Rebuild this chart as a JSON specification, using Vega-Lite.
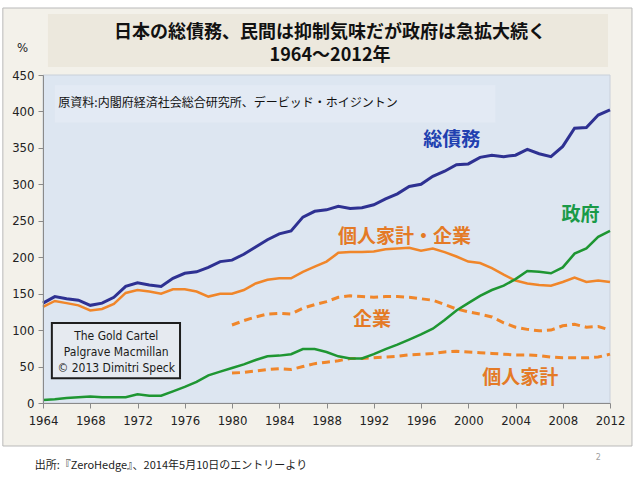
{
  "$schema": "https://vega.github.io/schema/vega-lite/v6.json",
  "width": 567,
  "height": 328,
  "autosize": {"type": "none"},
  "padding": {"left": 43, "top": 75, "right": 30, "bottom": 77},
  "background": "white",
  "config": {
    "view": {"fill": "#dde6f1", "stroke": "#c9d0da", "strokeWidth": 1},
    "axis": {"labelFont": "DejaVu Sans Condensed", "labelFontSize": 13, "labelColor": "#222222", "domainColor": "#8a8a8a", "tickColor": "#8a8a8a", "grid": false}
  },
  "datasets": {
    "one": [{"k": 1}],
    "debt": [
      {"year": 1964, "total": 137, "hc": 132, "gov": 4, "corp": null, "hh": null},
      {"year": 1965, "total": 146, "hc": 140, "gov": 5, "corp": null, "hh": null},
      {"year": 1966, "total": 143, "hc": 137, "gov": 7, "corp": null, "hh": null},
      {"year": 1967, "total": 141, "hc": 134, "gov": 8, "corp": null, "hh": null},
      {"year": 1968, "total": 134, "hc": 127, "gov": 9, "corp": null, "hh": null},
      {"year": 1969, "total": 137, "hc": 129, "gov": 8, "corp": null, "hh": null},
      {"year": 1970, "total": 145, "hc": 136, "gov": 8, "corp": null, "hh": null},
      {"year": 1971, "total": 160, "hc": 151, "gov": 8, "corp": null, "hh": null},
      {"year": 1972, "total": 165, "hc": 155, "gov": 12, "corp": null, "hh": null},
      {"year": 1973, "total": 162, "hc": 153, "gov": 10, "corp": null, "hh": null},
      {"year": 1974, "total": 160, "hc": 150, "gov": 10, "corp": null, "hh": null},
      {"year": 1975, "total": 171, "hc": 156, "gov": 16, "corp": null, "hh": null},
      {"year": 1976, "total": 178, "hc": 156, "gov": 22, "corp": null, "hh": null},
      {"year": 1977, "total": 180, "hc": 153, "gov": 29, "corp": null, "hh": null},
      {"year": 1978, "total": 186, "hc": 146, "gov": 38, "corp": null, "hh": null},
      {"year": 1979, "total": 194, "hc": 150, "gov": 43, "corp": null, "hh": null},
      {"year": 1980, "total": 196, "hc": 150, "gov": 48, "corp": 107, "hh": 41},
      {"year": 1981, "total": 204, "hc": 155, "gov": 53, "corp": 113, "hh": 42},
      {"year": 1982, "total": 214, "hc": 164, "gov": 59, "corp": 118, "hh": 44},
      {"year": 1983, "total": 224, "hc": 169, "gov": 64, "corp": 122, "hh": 46},
      {"year": 1984, "total": 232, "hc": 171, "gov": 65, "corp": 123, "hh": 47},
      {"year": 1985, "total": 236, "hc": 171, "gov": 67, "corp": 122, "hh": 46},
      {"year": 1986, "total": 255, "hc": 180, "gov": 74, "corp": 130, "hh": 50},
      {"year": 1987, "total": 263, "hc": 187, "gov": 74, "corp": 135, "hh": 54},
      {"year": 1988, "total": 265, "hc": 194, "gov": 70, "corp": 139, "hh": 56},
      {"year": 1989, "total": 270, "hc": 206, "gov": 64, "corp": 145, "hh": 58},
      {"year": 1990, "total": 267, "hc": 207, "gov": 61, "corp": 147, "hh": 61},
      {"year": 1991, "total": 268, "hc": 207, "gov": 61, "corp": 146, "hh": 61},
      {"year": 1992, "total": 272, "hc": 208, "gov": 67, "corp": 145, "hh": 62},
      {"year": 1993, "total": 280, "hc": 211, "gov": 74, "corp": 146, "hh": 63},
      {"year": 1994, "total": 287, "hc": 212, "gov": 80, "corp": 146, "hh": 64},
      {"year": 1995, "total": 297, "hc": 213, "gov": 87, "corp": 145, "hh": 66},
      {"year": 1996, "total": 300, "hc": 209, "gov": 94, "corp": 143, "hh": 67},
      {"year": 1997, "total": 311, "hc": 212, "gov": 102, "corp": 141, "hh": 68},
      {"year": 1998, "total": 318, "hc": 207, "gov": 114, "corp": 135, "hh": 70},
      {"year": 1999, "total": 327, "hc": 201, "gov": 127, "corp": 129, "hh": 71},
      {"year": 2000, "total": 328, "hc": 194, "gov": 137, "corp": 125, "hh": 70},
      {"year": 2001, "total": 337, "hc": 192, "gov": 147, "corp": 122, "hh": 69},
      {"year": 2002, "total": 340, "hc": 185, "gov": 155, "corp": 118, "hh": 68},
      {"year": 2003, "total": 338, "hc": 176, "gov": 161, "corp": 110, "hh": 67},
      {"year": 2004, "total": 340, "hc": 168, "gov": 170, "corp": 104, "hh": 66},
      {"year": 2005, "total": 348, "hc": 164, "gov": 181, "corp": 101, "hh": 66},
      {"year": 2006, "total": 342, "hc": 162, "gov": 180, "corp": 99, "hh": 65},
      {"year": 2007, "total": 338, "hc": 161, "gov": 178, "corp": 100, "hh": 63},
      {"year": 2008, "total": 352, "hc": 166, "gov": 186, "corp": 106, "hh": 62},
      {"year": 2009, "total": 377, "hc": 172, "gov": 205, "corp": 108, "hh": 62},
      {"year": 2010, "total": 378, "hc": 166, "gov": 212, "corp": 104, "hh": 62},
      {"year": 2011, "total": 395, "hc": 168, "gov": 228, "corp": 105, "hh": 63},
      {"year": 2012, "total": 402, "hc": 166, "gov": 236, "corp": 100, "hh": 67}
    ]
  },
  "layer": [
    {
      "data": {"name": "one"},
      "mark": {"type": "rect", "fill": "#f3f1ea", "stroke": "#b9b9b9", "strokeWidth": 1, "clip": false},
      "encoding": {
        "x": {"datum": 1960.6, "type": "quantitative", "scale": {"domain": [1964, 2012], "nice": false, "zero": false}, "axis": {"title": null, "zindex": 1, "values": [1964, 1968, 1972, 1976, 1980, 1984, 1988, 1992, 1996, 2000, 2004, 2008, 2012], "format": "d", "tickSize": 5, "labelPadding": 6, "labelFlush": false, "labelOverlap": false}},
        "x2": {"datum": 2013.86},
        "y": {"datum": 541.9, "type": "quantitative", "scale": {"domain": [0, 450], "nice": false, "zero": false}, "axis": {"title": "%", "zindex": 1, "titleAngle": 0, "titleFont": "DejaVu Sans Condensed", "titleFontSize": 13, "titleFontWeight": "normal", "titleColor": "#222222", "titleX": -21, "titleY": -28, "titleAlign": "center", "titleBaseline": "middle", "values": [0, 50, 100, 150, 200, 250, 300, 350, 400, 450], "tickSize": 5, "labelPadding": 4, "labelOverlap": false}},
        "y2": {"datum": -59}
      }
    },
    {
      "data": {"name": "one"},
      "mark": {"type": "rect", "fill": "#ece8dd", "clip": false},
      "encoding": {"x": {"datum": 1964.42, "type": "quantitative"}, "x2": {"datum": 2011.83}, "y": {"datum": 533.7, "type": "quantitative", "axis": {"values": [0, 50, 100, 150, 200, 250, 300, 350, 400, 450]}}, "y2": {"datum": 461}}
    },
    {
      "data": {"name": "one"},
      "mark": {"type": "rect", "fill": "#dde6f1", "stroke": "#c9d0da", "strokeWidth": 1, "clip": false},
      "encoding": {"x": {"datum": 1964, "type": "quantitative"}, "x2": {"datum": 2012}, "y": {"datum": 450, "type": "quantitative", "axis": {"values": [0, 50, 100, 150, 200, 250, 300, 350, 400, 450]}}, "y2": {"datum": 0}}
    },
    {
      "data": {"name": "one"},
      "mark": {"type": "rect", "fill": "#e3eaf4"},
      "encoding": {"x": {"datum": 1965.0, "type": "quantitative"}, "x2": {"datum": 2002.3}, "y": {"datum": 436, "type": "quantitative", "axis": {"values": [0, 50, 100, 150, 200, 250, 300, 350, 400, 450]}}, "y2": {"datum": 385}}
    },
    {
      "data": {"name": "one"},
      "mark": {"type": "text", "align": "left", "baseline": "middle", "font": "Noto Sans CJK JP", "fontSize": 12, "color": "#111111"},
      "encoding": {"x": {"datum": 1965.3, "type": "quantitative"}, "y": {"datum": 411.5, "type": "quantitative", "axis": {"values": [0, 50, 100, 150, 200, 250, 300, 350, 400, 450]}}, "text": {"value": "原資料:内閣府経済社会総合研究所、デービッド・ホイジントン"}}
    },
    {
      "data": {"name": "debt"},
      "mark": {"type": "line", "color": "#2e3192", "strokeWidth": 3},
      "encoding": {"x": {"field": "year", "type": "quantitative"}, "y": {"field": "total", "type": "quantitative", "axis": {"values": [0, 50, 100, 150, 200, 250, 300, 350, 400, 450]}}}
    },
    {
      "data": {"name": "debt"},
      "mark": {"type": "line", "color": "#f0862a", "strokeWidth": 2.5},
      "encoding": {"x": {"field": "year", "type": "quantitative"}, "y": {"field": "hc", "type": "quantitative", "axis": {"values": [0, 50, 100, 150, 200, 250, 300, 350, 400, 450]}}}
    },
    {
      "data": {"name": "debt"},
      "mark": {"type": "line", "color": "#f0862a", "strokeWidth": 3, "strokeDash": [8, 5]},
      "encoding": {"x": {"field": "year", "type": "quantitative"}, "y": {"field": "corp", "type": "quantitative", "axis": {"values": [0, 50, 100, 150, 200, 250, 300, 350, 400, 450]}}}
    },
    {
      "data": {"name": "debt"},
      "mark": {"type": "line", "color": "#f0862a", "strokeWidth": 3, "strokeDash": [8, 5]},
      "encoding": {"x": {"field": "year", "type": "quantitative"}, "y": {"field": "hh", "type": "quantitative", "axis": {"values": [0, 50, 100, 150, 200, 250, 300, 350, 400, 450]}}}
    },
    {
      "data": {"name": "debt"},
      "mark": {"type": "line", "color": "#1e9632", "strokeWidth": 2.5},
      "encoding": {"x": {"field": "year", "type": "quantitative"}, "y": {"field": "gov", "type": "quantitative", "axis": {"values": [0, 50, 100, 150, 200, 250, 300, 350, 400, 450]}}}
    },
    {
      "data": {"name": "one"},
      "mark": {"type": "rect", "fill": "#e6eaf0", "stroke": "#1e1e1e", "strokeWidth": 2},
      "encoding": {"x": {"datum": 1964.75, "type": "quantitative"}, "x2": {"datum": 1975.6}, "y": {"datum": 109.7, "type": "quantitative", "axis": {"values": [0, 50, 100, 150, 200, 250, 300, 350, 400, 450]}}, "y2": {"datum": 33.8}}
    },
    {
      "data": {"name": "one"},
      "mark": {"type": "text", "align": "center", "baseline": "middle", "font": "DejaVu Sans Condensed", "fontSize": 12, "lineHeight": 16, "color": "#1a1a1a"},
      "encoding": {"x": {"datum": 1970.2, "type": "quantitative"}, "y": {"datum": 92, "type": "quantitative", "axis": {"values": [0, 50, 100, 150, 200, 250, 300, 350, 400, 450]}}, "text": {"value": ["The Gold Cartel", "Palgrave Macmillan", "© 2013 Dimitri Speck"]}}
    },
    {
      "data": {"name": "one"},
      "mark": {"type": "text", "align": "center", "baseline": "middle", "font": "Noto Sans CJK JP", "fontWeight": "bold", "fontSize": 19, "color": "#2140b0"},
      "encoding": {"x": {"datum": 1998.6, "type": "quantitative"}, "y": {"datum": 360.5, "type": "quantitative", "axis": {"values": [0, 50, 100, 150, 200, 250, 300, 350, 400, 450]}}, "text": {"value": "総債務"}}
    },
    {
      "data": {"name": "one"},
      "mark": {"type": "text", "align": "center", "baseline": "middle", "font": "Noto Sans CJK JP", "fontWeight": "bold", "fontSize": 19, "color": "#e47a26"},
      "encoding": {"x": {"datum": 1994.6, "type": "quantitative"}, "y": {"datum": 228, "type": "quantitative", "axis": {"values": [0, 50, 100, 150, 200, 250, 300, 350, 400, 450]}}, "text": {"value": "個人家計・企業"}}
    },
    {
      "data": {"name": "one"},
      "mark": {"type": "text", "align": "center", "baseline": "middle", "font": "Noto Sans CJK JP", "fontWeight": "bold", "fontSize": 19, "color": "#1a9a48"},
      "encoding": {"x": {"datum": 2009.5, "type": "quantitative"}, "y": {"datum": 258, "type": "quantitative", "axis": {"values": [0, 50, 100, 150, 200, 250, 300, 350, 400, 450]}}, "text": {"value": "政府"}}
    },
    {
      "data": {"name": "one"},
      "mark": {"type": "text", "align": "center", "baseline": "middle", "font": "Noto Sans CJK JP", "fontWeight": "bold", "fontSize": 19, "color": "#e47a26"},
      "encoding": {"x": {"datum": 1991.85, "type": "quantitative"}, "y": {"datum": 114, "type": "quantitative", "axis": {"values": [0, 50, 100, 150, 200, 250, 300, 350, 400, 450]}}, "text": {"value": "企業"}}
    },
    {
      "data": {"name": "one"},
      "mark": {"type": "text", "align": "center", "baseline": "middle", "font": "Noto Sans CJK JP", "fontWeight": "bold", "fontSize": 19, "color": "#e47a26"},
      "encoding": {"x": {"datum": 2004.4, "type": "quantitative"}, "y": {"datum": 34, "type": "quantitative", "axis": {"values": [0, 50, 100, 150, 200, 250, 300, 350, 400, 450]}}, "text": {"value": "個人家計"}}
    },
    {
      "data": {"name": "one"},
      "mark": {"type": "text", "align": "center", "baseline": "middle", "font": "Noto Sans CJK JP", "fontWeight": "bold", "fontSize": 18, "color": "#111111", "clip": false},
      "encoding": {"x": {"datum": 1988.3, "type": "quantitative"}, "y": {"datum": 507, "type": "quantitative", "axis": {"values": [0, 50, 100, 150, 200, 250, 300, 350, 400, 450]}}, "text": {"value": "日本の総債務、民間は抑制気味だが政府は急拡大続く"}}
    },
    {
      "data": {"name": "one"},
      "mark": {"type": "text", "align": "center", "baseline": "middle", "font": "Noto Sans CJK JP", "fontWeight": "bold", "fontSize": 18, "color": "#111111", "clip": false},
      "encoding": {"x": {"datum": 1988.3, "type": "quantitative"}, "y": {"datum": 475.5, "type": "quantitative", "axis": {"values": [0, 50, 100, 150, 200, 250, 300, 350, 400, 450]}}, "text": {"value": "1964～2012年"}}
    },
    {
      "data": {"name": "one"},
      "mark": {"type": "text", "align": "left", "baseline": "middle", "font": "Noto Sans CJK JP", "fontSize": 11, "color": "#222222", "clip": false},
      "encoding": {"x": {"datum": 1963.3, "type": "quantitative"}, "y": {"datum": -86.5, "type": "quantitative", "axis": {"values": [0, 50, 100, 150, 200, 250, 300, 350, 400, 450]}}, "text": {"value": "出所:『ZeroHedge』、2014年5月10日のエントリーより"}}
    },
    {
      "data": {"name": "one"},
      "mark": {"type": "text", "align": "center", "baseline": "middle", "font": "DejaVu Sans", "fontSize": 8, "color": "#a0a0a0", "clip": false},
      "encoding": {"x": {"datum": 2011, "type": "quantitative"}, "y": {"datum": -75.5, "type": "quantitative", "axis": {"values": [0, 50, 100, 150, 200, 250, 300, 350, 400, 450]}}, "text": {"value": "2"}}
    }
  ]
}
